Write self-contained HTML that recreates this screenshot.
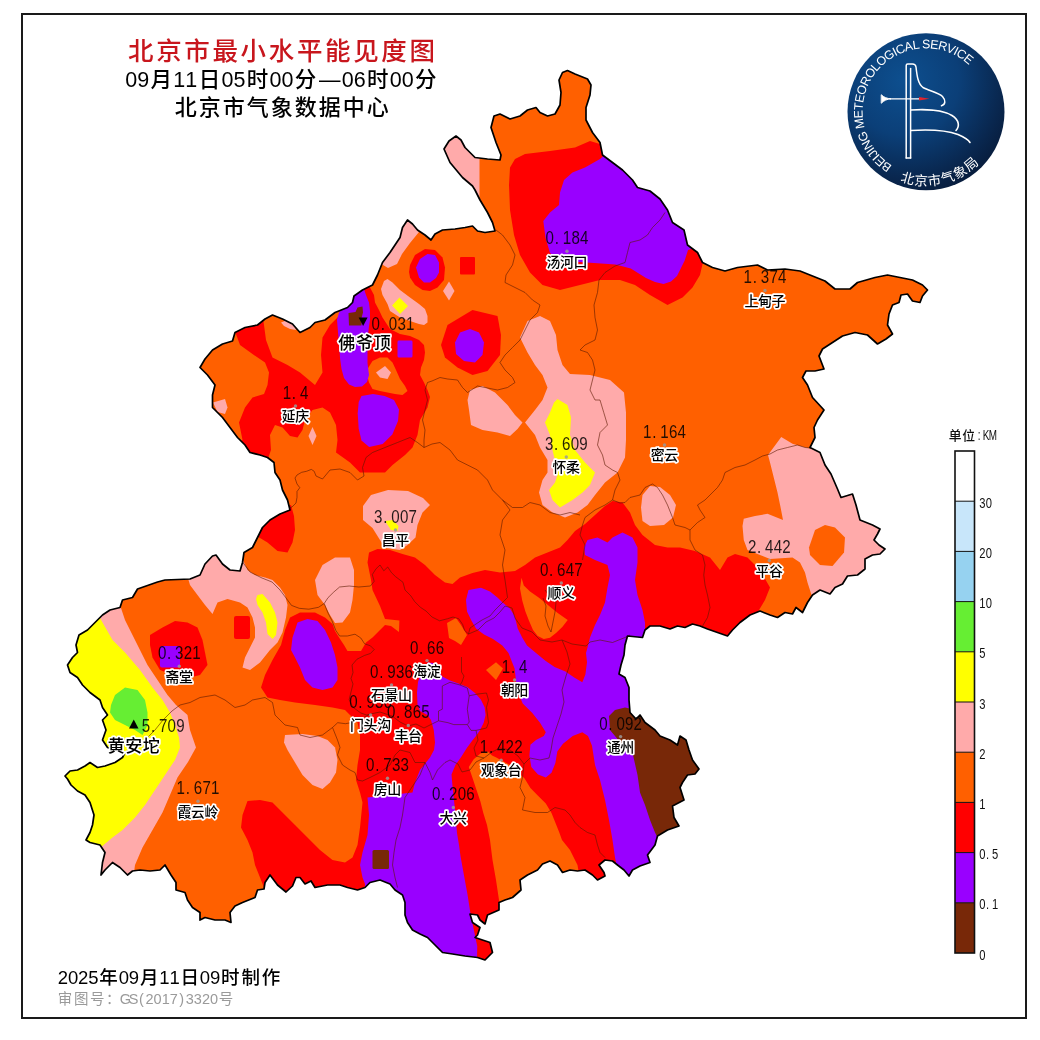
<!DOCTYPE html>
<html lang="zh-CN"><head><meta charset="utf-8"><title>北京市最小水平能见度图</title>
<style>
html,body{margin:0;padding:0;background:#fff;}
body{width:1040px;height:1040px;overflow:hidden;position:relative;font-family:"Liberation Sans","Noto Sans CJK SC",sans-serif;}
svg{position:absolute;left:0;top:0;display:block;}
text{font-family:"Liberation Sans","Noto Sans CJK SC",sans-serif;}
</style></head><body>
<svg width="1040" height="1040" viewBox="0 0 1040 1040">
<rect x="0" y="0" width="1040" height="1040" fill="#fff"/>

<defs><clipPath id="bj"><polygon points="444,149 449,141 456,136 461,140 465,147.5 475,157.5 487.5,159 500,160 501,155 496,142.5 491,127.5 494,116 500,114 510,119 520,116 527.5,110 536,107.5 540,112.5 547.5,116 555,114 560,105 561,92.5 559,80 562.5,72.5 567.5,70.5 575,74 587.5,79 591,85 590,95 586,107.5 586,120 592.5,132.5 600,142.5 602.5,155 612.5,162.5 622.5,170 632.5,180 637.5,187.5 650,191 660,199 667.5,210 672.5,222.5 684,230 687.5,245 697.5,252.5 702.5,262.5 712.5,267.5 725,271 737.5,267.5 757.5,265 767.5,270 785,269 800,271 812.5,276 825,281 835,289 850,289 857.5,282.5 875,277.5 887.5,275 900,277.5 912.5,280 922.5,285 927.5,290 922.5,296 920,302.5 912.5,301 907.5,294 901,295 899,302.5 892.5,305 889,314 887.5,325 892.5,334 886,339 877.5,344 867.5,335 855,332.5 842.5,336 832.5,342.5 822.5,349 819,356 824,369 815,371 806,371 802.5,377.5 807.5,385 812.5,397.5 824,410 817.5,420 814,427.5 815,437.5 810,447.5 820,452.5 825,465 831,474 837.5,489 841,497.5 852.5,494 856,505 860,520 872.5,525 880,529 877.5,534 874,540 879,545 885,549 880,554 872.5,555 865,559 865,569 857.5,575 847.5,576 842.5,584 835,587.5 830,594 820,590 812.5,595 807.5,602.5 802.5,612.5 796,607.5 792.5,614 785,612.5 777.5,617.5 770,615 760,611 750,615 740,622.5 732.5,630 727.5,636 717.5,632.5 707.5,629 700,626 692.5,624 685,627.5 677.5,626 670,629 660,626 650,626 645,630 642.5,637.5 627.5,636 625,645 624,655 621,665 619,674 625,677.5 629,687.5 629,700 630,712.5 636,719 640,715 645,722.5 655,730 660,736 670,740 677.5,745 680,736 686,740 689,750 692.5,760 699,769 695,774 687.5,775 682.5,782.5 680,787.5 684,800 672.5,806 674,817.5 679,826 667.5,830 657.5,836 655,845 647.5,855 650,862.5 640,866 632.5,870 629,876 624,870 617.5,865 612.5,861 605,860 599,865 604,872.5 605,876 597.5,880 592.5,875 585,870 577.5,871 570,870 562.5,872.5 557.5,865 550,861 542.5,864 537.5,870 527.5,875 520,880 521,890 512.5,897.5 505,900 499,902.5 499,910 487.5,915 485,924 480,920 477.5,915 470,914 472.5,922.5 480,927.5 477.5,935 475,937.5 482.5,940 490,942.5 492.5,952.5 485,960 477.5,957.5 465,956 452.5,954 442.5,952.5 435,945 427.5,937.5 420,934 412.5,930 407.5,922.5 405,915 405,902.5 402.5,895 395,890 390,884 380,880 370,882.5 365,887.5 357.5,890 347.5,887.5 340,885 327.5,885 315,887.5 311,881 305,884 300,877.5 296,877.5 292.5,886 286,892 277.5,885 270,875 265,882.5 264,889 257.5,890 255,897.5 242.5,902.5 235,906 230,912.5 231,922.5 225,920 215,920 205,917.5 200,920 200,912.5 192.5,907.5 187.5,900 185,892.5 176,890 176,882.5 171,875 165,865 160,870 150,871 140,870 132.5,871 127.5,875 120,867.5 112.5,862.5 105,870 101,875 102.5,862.5 105,852.5 100,845 90,842.5 86,840 90,832.5 92.5,825 94,815 90,802.5 85,795 77.5,791 71,785 67.5,779 65,776 70,771 77.5,770 85,766 90,762.5 97.5,767.5 105,766 115,762.5 122.5,757.5 125,752.5 115,750 107.5,747.5 102.5,740 106,730 102.5,720 107.5,715 102.5,707.5 100,700 90,692.5 82.5,685 77.5,677.5 70,672.5 67.5,665 72.5,657.5 77.5,652.5 76,645 79,635 87.5,630 95,622.5 102.5,615 110,610 120,607.5 122.5,600 132.5,597.5 137.5,589 147.5,585.5 157.5,582 165,580 177.5,579.5 190,579 200,575 205,564 212.5,556 216,555 222.5,564 230,570 240,571 242.5,562.5 244,552.5 252.5,547.5 257.5,537.5 262.5,527.5 270,520 280,514 290,510 287.5,500 282.5,490 280,480 275,472.5 274,462.5 267.5,457.5 260,455 250,452.5 245,445 237.5,437.5 230,427.5 222.5,417.5 212.5,407.5 212.5,395 215,385 207.5,375 200,367.5 205,359 212.5,350 222.5,344 232.5,341 235,332.5 245,327.5 257.5,325 265,319 272.5,315 282.5,319 292.5,324 300,332.5 310,327.5 315,322.5 325,320 335,312.5 347.5,307.5 352.5,302.5 354,296 362.5,290 372.5,285 377.5,275 382.5,262.5 390,252.5 395,245 400,237.5 402.5,227.5 407.5,220 412.5,224 417.5,230 425,235 431,240 435,234 442.5,230 455,229 465,227.5 472.5,226 477.5,231 485,232.5 495,231 492.5,222.5 487.5,212.5 480,200 475,190 472.5,186 462.5,177.5 450,162.5"/></clipPath>

<radialGradient id="lg" cx="0.36" cy="0.30" r="0.78">
<stop offset="0" stop-color="#0d4f8f"/><stop offset="0.45" stop-color="#0b3f78"/><stop offset="0.8" stop-color="#09274f"/><stop offset="1" stop-color="#071a38"/>
</radialGradient>
<path id="arcTop" d="M 892.35,165.55 A 63.5,63.5 0 1 1 969.71,65.64"/>
<path id="arcBot" d="M 900.08,181.01 A 74,74 0 0 0 979.68,162.64"/>

</defs>
<rect x="22" y="14" width="1004" height="1004" fill="none" stroke="#1a1a1a" stroke-width="2"/>
<g clip-path="url(#bj)">
<polygon points="444,149 449,141 456,136 461,140 465,147.5 475,157.5 487.5,159 500,160 501,155 496,142.5 491,127.5 494,116 500,114 510,119 520,116 527.5,110 536,107.5 540,112.5 547.5,116 555,114 560,105 561,92.5 559,80 562.5,72.5 567.5,70.5 575,74 587.5,79 591,85 590,95 586,107.5 586,120 592.5,132.5 600,142.5 602.5,155 612.5,162.5 622.5,170 632.5,180 637.5,187.5 650,191 660,199 667.5,210 672.5,222.5 684,230 687.5,245 697.5,252.5 702.5,262.5 712.5,267.5 725,271 737.5,267.5 757.5,265 767.5,270 785,269 800,271 812.5,276 825,281 835,289 850,289 857.5,282.5 875,277.5 887.5,275 900,277.5 912.5,280 922.5,285 927.5,290 922.5,296 920,302.5 912.5,301 907.5,294 901,295 899,302.5 892.5,305 889,314 887.5,325 892.5,334 886,339 877.5,344 867.5,335 855,332.5 842.5,336 832.5,342.5 822.5,349 819,356 824,369 815,371 806,371 802.5,377.5 807.5,385 812.5,397.5 824,410 817.5,420 814,427.5 815,437.5 810,447.5 820,452.5 825,465 831,474 837.5,489 841,497.5 852.5,494 856,505 860,520 872.5,525 880,529 877.5,534 874,540 879,545 885,549 880,554 872.5,555 865,559 865,569 857.5,575 847.5,576 842.5,584 835,587.5 830,594 820,590 812.5,595 807.5,602.5 802.5,612.5 796,607.5 792.5,614 785,612.5 777.5,617.5 770,615 760,611 750,615 740,622.5 732.5,630 727.5,636 717.5,632.5 707.5,629 700,626 692.5,624 685,627.5 677.5,626 670,629 660,626 650,626 645,630 642.5,637.5 627.5,636 625,645 624,655 621,665 619,674 625,677.5 629,687.5 629,700 630,712.5 636,719 640,715 645,722.5 655,730 660,736 670,740 677.5,745 680,736 686,740 689,750 692.5,760 699,769 695,774 687.5,775 682.5,782.5 680,787.5 684,800 672.5,806 674,817.5 679,826 667.5,830 657.5,836 655,845 647.5,855 650,862.5 640,866 632.5,870 629,876 624,870 617.5,865 612.5,861 605,860 599,865 604,872.5 605,876 597.5,880 592.5,875 585,870 577.5,871 570,870 562.5,872.5 557.5,865 550,861 542.5,864 537.5,870 527.5,875 520,880 521,890 512.5,897.5 505,900 499,902.5 499,910 487.5,915 485,924 480,920 477.5,915 470,914 472.5,922.5 480,927.5 477.5,935 475,937.5 482.5,940 490,942.5 492.5,952.5 485,960 477.5,957.5 465,956 452.5,954 442.5,952.5 435,945 427.5,937.5 420,934 412.5,930 407.5,922.5 405,915 405,902.5 402.5,895 395,890 390,884 380,880 370,882.5 365,887.5 357.5,890 347.5,887.5 340,885 327.5,885 315,887.5 311,881 305,884 300,877.5 296,877.5 292.5,886 286,892 277.5,885 270,875 265,882.5 264,889 257.5,890 255,897.5 242.5,902.5 235,906 230,912.5 231,922.5 225,920 215,920 205,917.5 200,920 200,912.5 192.5,907.5 187.5,900 185,892.5 176,890 176,882.5 171,875 165,865 160,870 150,871 140,870 132.5,871 127.5,875 120,867.5 112.5,862.5 105,870 101,875 102.5,862.5 105,852.5 100,845 90,842.5 86,840 90,832.5 92.5,825 94,815 90,802.5 85,795 77.5,791 71,785 67.5,779 65,776 70,771 77.5,770 85,766 90,762.5 97.5,767.5 105,766 115,762.5 122.5,757.5 125,752.5 115,750 107.5,747.5 102.5,740 106,730 102.5,720 107.5,715 102.5,707.5 100,700 90,692.5 82.5,685 77.5,677.5 70,672.5 67.5,665 72.5,657.5 77.5,652.5 76,645 79,635 87.5,630 95,622.5 102.5,615 110,610 120,607.5 122.5,600 132.5,597.5 137.5,589 147.5,585.5 157.5,582 165,580 177.5,579.5 190,579 200,575 205,564 212.5,556 216,555 222.5,564 230,570 240,571 242.5,562.5 244,552.5 252.5,547.5 257.5,537.5 262.5,527.5 270,520 280,514 290,510 287.5,500 282.5,490 280,480 275,472.5 274,462.5 267.5,457.5 260,455 250,452.5 245,445 237.5,437.5 230,427.5 222.5,417.5 212.5,407.5 212.5,395 215,385 207.5,375 200,367.5 205,359 212.5,350 222.5,344 232.5,341 235,332.5 245,327.5 257.5,325 265,319 272.5,315 282.5,319 292.5,324 300,332.5 310,327.5 315,322.5 325,320 335,312.5 347.5,307.5 352.5,302.5 354,296 362.5,290 372.5,285 377.5,275 382.5,262.5 390,252.5 395,245 400,237.5 402.5,227.5 407.5,220 412.5,224 417.5,230 425,235 431,240 435,234 442.5,230 455,229 465,227.5 472.5,226 477.5,231 485,232.5 495,231 492.5,222.5 487.5,212.5 480,200 475,190 472.5,186 462.5,177.5 450,162.5" fill="#FF6000"/>
<polygon points="430,120 479.5,120 479.5,198 440,198" fill="#FFAAAA"/>
<polygon points="400,215 410,219 419,232 410,243 402,254 397,264 388,268 378,262" fill="#FFAAAA"/>
<polygon points="381,289 384,281 387.5,279 392.5,282.5 400,290 410,297.5 419,304 425,309 427.5,316 427.5,322.5 424,325 419,324 410,321 400,317.5 390,311 387.5,304 382.5,295" fill="#FFAAAA"/>
<polygon points="449,281.5 454.5,291 449,300.5 443,291" fill="#FFAAAA"/>
<polygon points="281,322.5 287.5,320 294,324 296,330 290,329 284,326" fill="#FFAAAA"/>
<polygon points="213,402.5 225,399 227.5,407.5 225,414 217.5,412" fill="#FFAAAA"/>
<polygon points="312.5,427 316.5,436 312.5,445 308.5,436" fill="#FFAAAA"/>
<polygon points="520,337.5 527.5,321 540,316 550,321 556,335 557.5,350 562.5,365 570,374 590,375 610,380 624,392.5 626,412.5 626,440 625,457.5 617.5,472.5 605,482.5 595,495 587.5,505 577.5,512.5 565,517.5 552.5,512.5 542.5,505 539,492.5 542.5,480 547.5,472.5 547.5,460 540,447.5 535,435 525,422.5 535,410 542.5,400 547.5,387.5 542.5,375 535,365 527.5,352.5" fill="#FFAAAA"/>
<polygon points="470,390 482.5,386 495,392.5 507.5,405 515,415 522.5,422.5 517.5,429 510,436 497.5,432.5 482.5,430 471,425 469,410 467.5,400" fill="#FFAAAA"/>
<polygon points="642.5,495 650,486 660,487 670,495 676,505 673,517.5 664,525 650,526 642.5,521 641,507.5" fill="#FFAAAA"/>
<polygon points="768,455 781.25,437 792.5,443.75 800,446 812,449 830,440 900,520 900,620 812.5,598 807.5,582.5 805,572.5 800,562.5 792.5,557.5 770,559 760,555 747.5,550 743.75,540 742.5,526 743.75,518.75 755,516 767.5,513.75 783,520 780.6,507.5 777.5,492.5 773.75,477.5 770,462.5" fill="#FFAAAA"/>
<polygon points="363,506 371,495 388,490 408,491 423,498 430,505 422.5,512.5 417.5,525 415.5,537.5 407.5,545 400,550 385,548 372.5,528 363,520" fill="#FFAAAA"/>
<polygon points="315,580 322.5,565 335,557.5 350,557.5 354,570 354,585 352.5,600 350,612.5 342.5,622.5 335,623 330,615 325,605 317.5,595" fill="#FFAAAA"/>
<polygon points="187,575 200,560 215,550 243,560 247.5,570 255,575 265,577.5 272.5,580 280,587.5 285,595 287.5,605 286,617.5 282.5,632.5 277.5,642.5 270,650 260,662.5 250,670 242.5,667.5 245,657.5 250,647.5 255,637.5 255,627.5 252.5,617.5 247.5,607.5 240,602.5 227.5,599 217.5,602.5 212.5,614 205,605 197.5,595 190,585" fill="#FFAAAA"/>
<polygon points="285,735 302.5,734 317.5,736 327.5,740 335,747.5 337.5,760 336,772.5 330,782.5 322.5,789 312.5,785 302.5,775 295,762.5 287.5,750 284,742.5" fill="#FFAAAA"/>
<polygon points="60,600 120,605 125,620 132.5,635 140,650 147.5,665 157.5,680 167.5,695 176,705 187.5,715 190,730 196,747.5 188,762 177.5,777.5 170,795 162.5,812.5 152.5,830 142.5,847.5 135,865 133,880 60,880" fill="#FFAAAA"/>
<polygon points="392,305.6 399.5,297.5 408,306 400,314" fill="#FFFF00"/>
<polygon points="557.5,399 567.5,405 571,417.5 570,435 575,450 585,462.5 595,472.5 590,485 582.5,492.5 572.5,500 560,507.5 552.5,500 549,490 555,482.5 557.5,475 556,465 552.5,450 550,435 545,422.5 550,412.5 554,402.5" fill="#FFFF00"/>
<polygon points="385,521 392.5,520 398.5,526 397.5,531 391,530" fill="#FFFF00"/>
<polygon points="257.5,595 262.5,594 270,602.5 275,612.5 277.5,622.5 276,635 272.5,639 267.5,634 266,622.5 262.5,612.5 257.5,605 256,599" fill="#FFFF00"/>
<polygon points="60,610 100,618 102.5,622.5 112.5,640 125,652.5 140,670 152.5,687.5 162.5,700 170,712.5 175,725 179,737.5 180,747.5 175,760 165,775 155,790 145,805 135,817.5 122.5,830 112.5,837.5 100,848 60,850" fill="#FFFF00"/>
<polygon points="111,705 115,695 125,687.5 137.5,690 145,700 147.5,712.5 147.5,725 142.5,735 135,730 125,725 115,720 110,712.5" fill="#66EE33"/>
<polygon points="600,144 590,141 575,147.5 550,151 525,154 515,159 510,167.5 509,185 510,210 514,235 520,255 530,272.5 542.5,285 560,290 580,285 600,280 620,280 635,285 650,295 667.5,305 682.5,297.5 692.5,287.5 700,275 703,262 720,250 700,200 650,170 610,140" fill="#FF0000"/>
<polygon points="410,265 415,255 425,249 435,250 442.5,257.5 445,267.5 444,280 437.5,287.5 430,291 422.5,290 415,285 410,277.5 409,272" fill="#FF0000"/>
<polygon points="441,345 447.5,325 472.5,310 497.5,316 501,335 500,355 487.5,371 472.5,375 457.5,367.5 445,357.5" fill="#FF0000"/>
<path d="M461,257 H474 Q475,257 475,258 V273.5 Q475,274.5 474,274.5 H461 Q460,274.5 460,273.5 V258 Q460,257 461,257 Z" fill="#FF0000"/>
<path d="M236,616 H248 Q250,616 250,618 V637 Q250,639 248,639 H236 Q234,639 234,637 V618 Q234,616 236,616 Z" fill="#FF0000"/>
<polygon points="236,334 228,325 262,312 264,325 266,340 272.5,357.5 287.5,365 300,372.5 315,385 322.5,372.5 321,355 322.5,337.5 330,325 340,315 345,295 365,280 370,287.5 374,295 375,302.5 379,310 382.5,317.5 390,329 400,334 410,336 419,340 424,345 425,352.5 424,360 421,367.5 420,375 424,382.5 427.5,390 430,397 427.5,407.5 420,420 417.5,435 412.5,447.5 405,455 392.5,465 385,472.5 370,472.5 360,472.5 350,462.5 336,452.5 337.5,440 336,425 330,412.5 322.5,407.5 312.5,410 305,420 302.5,430 297.5,437.5 290,436 282.5,427.5 275,425 270,435 271,450 267.5,460 250,462 238,445 242.5,440 239,422.5 245,407.5 252.5,397.5 264,394 267.5,385 269,372.5 265,362.5 252.5,354 240,345" fill="#FF0000"/>
<polygon points="150,635 162.5,627.5 175,621 187.5,622.5 197.5,627.5 202.5,640 205,652.5 207.5,665 200,675 190,677.5 175,676 160,670 152.5,657.5 150,645" fill="#FF0000"/>
<polygon points="255,535 260,520 272,510 291,505 294,516 295,530 292.5,542.5 287.5,552.5 277.5,551 267.5,542.5" fill="#FF0000"/>
<polygon points="369,552.5 377.5,549 390,550 402.5,554 415,557.5 425,565 435,575 445,582.5 452.5,584 460,577.5 472.5,573 485,570 500,572.5 515,571 525,565 535,557.5 547.5,552.5 560,547.5 567.5,540 575,531 585,524 595,515 605,506 612.5,501 622.5,502.5 630,512.5 635,525 642.5,535 655,545 667.5,547.5 680,547.5 695,551 710,557.5 720,570 727.5,557.5 735,554 747.5,557.5 760,570 770,587.5 765,600 757.5,612.5 752.5,620 752.5,1000 265,1000 265,890 260,877.5 255,865 252.5,852.5 247.5,840 241,827.5 242.5,815 247.5,801 260,800 272.5,802.5 282.5,812.5 295,825 307.5,837.5 320,850 332.5,860 345,862.5 352.5,857.5 357.5,845 360,827.5 362.5,802.5 360,792.5 356,780 357.5,765 360,750 360,735 357.5,722.5 350,715 345,710 332.5,707.5 315,705 295,702.5 280,700 267.5,697.5 261,687.5 265,675 272.5,660 281,645 285,630 290,617.5 300,612.5 315,612.5 325,617.5 332.5,624 335,631 340,639 344,645 347.5,651 361,651 366,642.5 372.5,637.5 380,630 385,625 391,626 399,632 399.4,620.6 385,619 380,606 376,597.5 372.5,590 371,580 367.5,562.5" fill="#FF0000"/>
<polygon points="367.5,369 372.5,361 380,357.5 387.5,357.5 392.5,362.5 396,370 400,379 405,386 407.5,391 402.5,395 395,394 387.5,392.5 380,391 372.5,389 369,382.5 367,375" fill="#FF6000"/>
<polygon points="376,372.5 385,366 391,372.5 387.5,379 380,377.5" fill="#FFAAAA"/>
<polygon points="809,547.5 815,530 825,525 835,527.5 845,537.5 844,552.5 832.5,566 820,565 810,555" fill="#FF6000"/>
<polygon points="447,623 456,618 461,625 467,635 461,645 455,641 449,638" fill="#FF6000"/>
<polygon points="486,670 496,662.3 503,668.5 496,680" fill="#FF6000"/>
<polygon points="521.5,577.7 523.8,585.4 530,591.5 539,597.7 548.5,605.4 557.7,613 567.7,620 562.3,627 556,633 550,637.7 543.8,639 537.7,636 533,630 529,620.8 525.4,611.5 522.3,600.8 520,588.5" fill="#FF6000"/>
<polygon points="468.8,767 473.7,759.2 480.4,753.5 488,751.5 492,755.4 495.8,757.3 510,765 524.6,778.5 530.4,788 538,795.8 545.8,803.5 551.5,813 555.4,822.7 559.2,832.3 562,840 570,850 577.5,865 580,880 560,900 500,910 499,900 496,880 492.5,860 490,840 487,825 483.3,813 480.4,801.5 476.5,790 472.7,778.5" fill="#FF6000"/>
<polygon points="600,159 585,167.5 572.5,172.5 564,180 560,192.5 559,205 550,212.5 543.3,221 545.5,237.7 550,253 557.7,259 563.5,261 590.4,262.7 615.4,264.6 630.8,268.5 646,278 655,282 663.5,284 671,281.5 677,276 681,268 684.6,260.8 688,250 720,240 660,170 610,150" fill="#9900FF"/>
<polygon points="416,267.5 420,259 427.5,254 435,255 439,262.5 439,272.5 436,278 430,282.5 424,282.5 419,277.5" fill="#9900FF"/>
<polygon points="455,342.5 460,332.5 470,329 479,332.5 484,342.5 482.5,355 475,362.5 464,361 456,354" fill="#9900FF"/>
<polygon points="342.5,309 350,300 364,289 366,295 369,302.5 370,311 370,320 369,326 367.5,340 367.5,352 367.5,363 369,375 367,382 362,386.5 355,387 349,384.5 344,378 341.5,369 340,358 339.5,350 338.5,338 337.5,326 337,320 339,312.5" fill="#9900FF"/>
<path d="M399,340.6 H411 Q412.5,340.6 412.5,342 V356 Q412.5,357.5 411,357.5 H399 Q397.5,357.5 397.5,356 V342 Q397.5,340.6 399,340.6 Z" fill="#9900FF"/>
<polygon points="361.5,396 373,394 384.6,396 394,400 399,409.6 398,421 392.3,434.6 382.7,444 369.2,447 361.5,440.4 358.7,428.8 357.7,413.5 358.7,402" fill="#9900FF"/>
<path d="M162,646 H178 Q180,646 180,648 V665.5 Q180,667.5 178,667.5 H162 Q160,667.5 160,665.5 V648 Q160,646 162,646 Z" fill="#9900FF"/>
<polygon points="297.5,622.5 307.5,619 317.5,621 325,630 331,642.5 335,655 337.5,667.5 337.5,680 332.5,687.5 322.5,690 312.5,687.5 305,680 300,667.5 295,657.5 291,650 292.5,637.5" fill="#9900FF"/>
<polygon points="418,682 420,676 424,668 428,662.5 433,663 438,670 442.3,676.5 450,680.4 457.7,683.3 467.3,687 475,693 480.8,699.6 484.6,707.3 485.6,715 483.7,722.7 479.8,730.4 476,736 472.7,740 467,747.7 461,757.3 455.4,765 451.5,774.6 452.5,786 454,800 455.5,815 457,833 459,845 460.5,856 464,875.4 467.5,894.6 470.5,913.8 477.5,947.5 477,970 360,970 365,884 362.5,877.5 360,865 362.5,852.5 367.5,835 369,815 367.5,797.5 390,795 412.5,792.5 415,782.5 420,770 430,757.5 434,750 435,742.5 433.75,730 431,720 427.5,715 420,711 417.5,705 417,692.5" fill="#9900FF"/>
<polygon points="466,600 468.5,590 481,587.7 490,591.5 497.7,597.7 502.3,602.3 510,608.5 514.6,616 517.7,628.5 522.3,637.7 527,645.4 536,653 545.4,660.8 554.6,667 565.4,671.5 574.6,677.7 582.3,682.3 585.4,674.6 587,662.3 586,653 587.5,647.5 590,637.5 595,625 600,615 605,602.5 607.5,587.5 610,575 607.5,565 595,560 585,555 584,547.5 587.5,540 597.5,537.5 607.5,542.5 612.5,537.5 622.5,532.5 632.5,537.5 637.5,547.5 637.5,562.5 635,580 637.5,595 642.5,610 645,622.5 645,632 655,640 655,700 700,740 700,850 640,880 616,870 616,862.5 615,857.5 612.5,840 609,820 605,800 600,780 595,765 592,745.8 588,736 582.3,732.3 572.7,736 563,743.8 557.3,751.5 555.4,763 551.5,772.7 545.8,777.5 538,774.6 531.3,767 529.4,755.4 530.4,744.8 536,740 543.8,736 545.8,732.3 540,722.7 532.3,713 522.7,703.5 517,690 514.6,668.5 511.5,660.8 508.5,653 502.3,645.4 493,639 484,634.6 476,628.5 471.5,620.8 467,611.5" fill="#9900FF"/>
<polygon points="609,716 615,710 625,707.5 632,709 700,700 720,780 660,850 657.5,837.5 655,832.5 650,820 645,805 640,792.5 637.5,775 633,755 620,742 610,730" fill="#782808"/>
<polygon points="348.5,313 355.5,312 357.5,307.5 362.5,306.5 363,312.5 361.5,318 361.5,325.5 349,325.5" fill="#782808"/>
<path d="M374,850 H387.5 Q389,850 389,851.5 V867.5 Q389,869 387.5,869 H374 Q372.5,869 372.5,867.5 V851.5 Q372.5,850 374,850 Z" fill="#782808"/>
<polygon points="477.5,947 484,940 495,942 495,962 477,962" fill="#FF0000"/>
<polyline points="496,230 502.5,235 510,245 515,255 512.5,265 506,275 505,282.5 515,287.5 525,292.5 532.5,300 540,305 537.5,312.5 530,320 525,330 520,340 512.5,347.5 505,355 500,362.5 505,370 512.5,377.5 515,382.5 507.5,387.5 497.5,390 485,387.5 477.5,386 467.5,392.5 462.5,387.5 457.5,380 447.5,379 440,377.5 432,381 427.5,382.5 425,390 427.5,400 425,410 422.5,420 425,430 424,440 424,447.5" fill="none" stroke="#5a1a00" stroke-opacity="0.75" stroke-width="0.8" stroke-linejoin="round"/>
<polyline points="665,212.5 660,220 652.5,227.5 647.5,235 640,240 630,242.5 627.5,252.5 625,262.5 615,266 605,272.5 599,280 597.5,292.5 594,305 595,317.5 597.5,330 595,340 585,345 580,350 587.5,352.5 592.5,360 595,370 592.5,380 590,390 595,400 600,400 603.75,412.5 607.5,425 600,432.5 597.5,445 602.5,455 605,465 612.5,470 617.5,472.5 620,480 615,490 612.5,500 605,505 595,510 585,517.5 582.5,525 580,535 585,545 582.5,560" fill="none" stroke="#5a1a00" stroke-opacity="0.75" stroke-width="0.8" stroke-linejoin="round"/>
<polyline points="290,507.5 292,507 296,503 297,497.3 297,491.5 299.8,487.7 297,484 295,478 297,475 301.7,472.3 306.5,471.3 311.3,469.4 314.2,471.3 316,476 322.5,479 330,470 340,469 350,472.5 357.5,480 364,476 362.5,467.5 366,457.5 372.5,452.5 385,447.5 397.5,442.5 410,437.5 417.5,442.5 424,447.5" fill="none" stroke="#5a1a00" stroke-opacity="0.75" stroke-width="0.8" stroke-linejoin="round"/>
<polyline points="424,447.5 432,444 440,442.5 450,450 457.5,460 467.5,465 477.5,470 487.5,480 492.5,490 502.5,500 512.5,507.5 522.5,507.5 530,502.5 540,505 550,512.5 560,515 570,512.5 580,515" fill="none" stroke="#5a1a00" stroke-opacity="0.75" stroke-width="0.8" stroke-linejoin="round"/>
<polyline points="502.5,500 510,510 502.5,520 500,535 505,550 502.5,565 505,580 507.5,597.5 500,605 495,610 490,616 482,620 470,628 468.5,634" fill="none" stroke="#5a1a00" stroke-opacity="0.75" stroke-width="0.8" stroke-linejoin="round"/>
<polyline points="242.5,562 250,572 262,578 272,582 280,590 285.8,597.7 291.5,605.4 299.2,608.3 308.8,609.2 318.5,607.3 324.2,603.5 328,597.7 333.8,592 339.6,587 349.2,586 358.8,587 370.4,586 374.2,581.3 372.3,574.6 376,568.8 380,565 383.8,570.8 387.7,567 391.5,572.7 395.4,576.5 403,582.3 405,590 410.8,595.8 414.6,601.5 420.4,607.3 426,611 432,617 439.6,620.8 447.3,618.8 453,617 458.8,618.8 462.7,624.6 464.6,630.4 468.5,634" fill="none" stroke="#5a1a00" stroke-opacity="0.75" stroke-width="0.8" stroke-linejoin="round"/>
<polyline points="324.2,603.5 328,613 332,620.8 335.8,630.4 339.6,636 347.3,636 355,634.2 360.8,638 364.6,643.8 370.4,645.8 374.2,649.6 370.4,653.5 364.6,655.4 357,659.2 352,665 353,672.7 351,678.5 353,684 351,692 349.2,699.6 353,707.3 360.8,713 366.5,715 370.4,714" fill="none" stroke="#5a1a00" stroke-opacity="0.75" stroke-width="0.8" stroke-linejoin="round"/>
<polyline points="125,752 135,746 145,740 155,730 163,720 168,715 172,711 180,705 190,702.5 200,697.5 215,695 225,700 235,707.5 245,705 252.5,700 265,697.5 272.5,702.5 275,715 285,725 297.5,727.5 300,735 310,737.5 322.5,735 332.5,727.5 337.7,722.7 345.4,723.7 351,722.7 357,720.8 364.6,717 370.4,714 380,712 392,716 400,722 408,726" fill="none" stroke="#5a1a00" stroke-opacity="0.75" stroke-width="0.8" stroke-linejoin="round"/>
<polyline points="332.5,727.5 337.5,740 340,747.5 337.5,755 342.5,765 350,770 355,772.5 357.5,780 362.5,781 370,777.5 380,772.5 390,765 395,755 400,750 410,752.5 415,762.5 425,762.5 430,772.5 432.5,780 437.5,770 445,762.5 450,760 458,764 462,772 470,770 476,762 484,758" fill="none" stroke="#5a1a00" stroke-opacity="0.75" stroke-width="0.8" stroke-linejoin="round"/>
<polyline points="425,762.5 420,775 410,790 405,797.5 402.5,815 400,827.5 396,840 394,852.5 392.5,865 395,877.5 397.5,887.5" fill="none" stroke="#5a1a00" stroke-opacity="0.75" stroke-width="0.8" stroke-linejoin="round"/>
<polyline points="522.5,777.5 520,787.5 525,797.5 522.5,810 535,812.5 547.5,812.5 555,807.5 565,810 570,815 575,822.5 580,827.5 587.5,832.5 595,835 597.5,845 600,852.5 605,857.5" fill="none" stroke="#5a1a00" stroke-opacity="0.75" stroke-width="0.8" stroke-linejoin="round"/>
<polyline points="484,758 492,752 500,748 510,750 518,756 524,764 522.5,777.5" fill="none" stroke="#5a1a00" stroke-opacity="0.75" stroke-width="0.8" stroke-linejoin="round"/>
<polyline points="612.5,500 620,503 625,502.5 630,497.5 640,495 645,487.5 652.5,484 657.5,487.5 662.5,495 667.5,505 672.5,517.5 675,525 685,527.5 690,530 697.5,522.5 705,517.5 700,510 697.5,505 705,500 710,495 717.5,487.5 722.5,480 725,472.5 735,467.5 745,465 755,460 762.5,456 770,454 777.5,450 787.5,447.5 797.5,445 805,447.5 811,448" fill="none" stroke="#5a1a00" stroke-opacity="0.75" stroke-width="0.8" stroke-linejoin="round"/>
<polyline points="690,530 690,540 695,550 702.5,555 705,565 703.75,575 705,585 707.5,595 710,607.5 707.5,617.5 702.5,626" fill="none" stroke="#5a1a00" stroke-opacity="0.75" stroke-width="0.8" stroke-linejoin="round"/>
<polyline points="468.5,634 478,630 486,622 494,618 500,612 505,606 512,608 515,618 522,628 532,632 540,640 552,642 562,640 572,644 586,646 590,642 600,640 612.5,642.5 625,637.5 630,635" fill="none" stroke="#5a1a00" stroke-opacity="0.75" stroke-width="0.8" stroke-linejoin="round"/>
<polyline points="562,640 567,652 570,664 566,676 562,690 564,702 561,714 557,726 553,738 551,750 549,758 540,760 530,758 524,764" fill="none" stroke="#5a1a00" stroke-opacity="0.75" stroke-width="0.8" stroke-linejoin="round"/>
<polyline points="543,598 546,606 545,616 548,626 551,632 553,622 555,612 556,602 553,596 548,594 545,590" fill="none" stroke="#5a1a00" stroke-opacity="0.75" stroke-width="0.8" stroke-linejoin="round"/>
<polyline points="442.3,686 450,682.3 460,685 467.3,688 469.2,695.8 467.3,709.2 469.2,722 467.3,724.6 453.8,724.6 448,722.7 438.5,720.8 438.5,711 442.3,709.2 442.3,686" fill="none" stroke="#5a1a00" stroke-opacity="0.75" stroke-width="0.8" stroke-linejoin="round"/>
<polyline points="469.2,695.8 478,694 486.5,693 488.5,700 486.5,707.3 488.5,722.7 486.5,728 476,730.4 471,730.4 467.3,724.6" fill="none" stroke="#5a1a00" stroke-opacity="0.75" stroke-width="0.8" stroke-linejoin="round"/>
<polyline points="461.5,657 461.5,672 464,676 462,682 460,685" fill="none" stroke="#5a1a00" stroke-opacity="0.75" stroke-width="0.8" stroke-linejoin="round"/>
<polyline points="408,726 416,724 424,728 432,724 438.5,720.8" fill="none" stroke="#5a1a00" stroke-opacity="0.75" stroke-width="0.8" stroke-linejoin="round"/>
<polyline points="476,730.4 478,740 474,748 476,756 484,758" fill="none" stroke="#5a1a00" stroke-opacity="0.75" stroke-width="0.8" stroke-linejoin="round"/>
</g>
<polygon points="444,149 449,141 456,136 461,140 465,147.5 475,157.5 487.5,159 500,160 501,155 496,142.5 491,127.5 494,116 500,114 510,119 520,116 527.5,110 536,107.5 540,112.5 547.5,116 555,114 560,105 561,92.5 559,80 562.5,72.5 567.5,70.5 575,74 587.5,79 591,85 590,95 586,107.5 586,120 592.5,132.5 600,142.5 602.5,155 612.5,162.5 622.5,170 632.5,180 637.5,187.5 650,191 660,199 667.5,210 672.5,222.5 684,230 687.5,245 697.5,252.5 702.5,262.5 712.5,267.5 725,271 737.5,267.5 757.5,265 767.5,270 785,269 800,271 812.5,276 825,281 835,289 850,289 857.5,282.5 875,277.5 887.5,275 900,277.5 912.5,280 922.5,285 927.5,290 922.5,296 920,302.5 912.5,301 907.5,294 901,295 899,302.5 892.5,305 889,314 887.5,325 892.5,334 886,339 877.5,344 867.5,335 855,332.5 842.5,336 832.5,342.5 822.5,349 819,356 824,369 815,371 806,371 802.5,377.5 807.5,385 812.5,397.5 824,410 817.5,420 814,427.5 815,437.5 810,447.5 820,452.5 825,465 831,474 837.5,489 841,497.5 852.5,494 856,505 860,520 872.5,525 880,529 877.5,534 874,540 879,545 885,549 880,554 872.5,555 865,559 865,569 857.5,575 847.5,576 842.5,584 835,587.5 830,594 820,590 812.5,595 807.5,602.5 802.5,612.5 796,607.5 792.5,614 785,612.5 777.5,617.5 770,615 760,611 750,615 740,622.5 732.5,630 727.5,636 717.5,632.5 707.5,629 700,626 692.5,624 685,627.5 677.5,626 670,629 660,626 650,626 645,630 642.5,637.5 627.5,636 625,645 624,655 621,665 619,674 625,677.5 629,687.5 629,700 630,712.5 636,719 640,715 645,722.5 655,730 660,736 670,740 677.5,745 680,736 686,740 689,750 692.5,760 699,769 695,774 687.5,775 682.5,782.5 680,787.5 684,800 672.5,806 674,817.5 679,826 667.5,830 657.5,836 655,845 647.5,855 650,862.5 640,866 632.5,870 629,876 624,870 617.5,865 612.5,861 605,860 599,865 604,872.5 605,876 597.5,880 592.5,875 585,870 577.5,871 570,870 562.5,872.5 557.5,865 550,861 542.5,864 537.5,870 527.5,875 520,880 521,890 512.5,897.5 505,900 499,902.5 499,910 487.5,915 485,924 480,920 477.5,915 470,914 472.5,922.5 480,927.5 477.5,935 475,937.5 482.5,940 490,942.5 492.5,952.5 485,960 477.5,957.5 465,956 452.5,954 442.5,952.5 435,945 427.5,937.5 420,934 412.5,930 407.5,922.5 405,915 405,902.5 402.5,895 395,890 390,884 380,880 370,882.5 365,887.5 357.5,890 347.5,887.5 340,885 327.5,885 315,887.5 311,881 305,884 300,877.5 296,877.5 292.5,886 286,892 277.5,885 270,875 265,882.5 264,889 257.5,890 255,897.5 242.5,902.5 235,906 230,912.5 231,922.5 225,920 215,920 205,917.5 200,920 200,912.5 192.5,907.5 187.5,900 185,892.5 176,890 176,882.5 171,875 165,865 160,870 150,871 140,870 132.5,871 127.5,875 120,867.5 112.5,862.5 105,870 101,875 102.5,862.5 105,852.5 100,845 90,842.5 86,840 90,832.5 92.5,825 94,815 90,802.5 85,795 77.5,791 71,785 67.5,779 65,776 70,771 77.5,770 85,766 90,762.5 97.5,767.5 105,766 115,762.5 122.5,757.5 125,752.5 115,750 107.5,747.5 102.5,740 106,730 102.5,720 107.5,715 102.5,707.5 100,700 90,692.5 82.5,685 77.5,677.5 70,672.5 67.5,665 72.5,657.5 77.5,652.5 76,645 79,635 87.5,630 95,622.5 102.5,615 110,610 120,607.5 122.5,600 132.5,597.5 137.5,589 147.5,585.5 157.5,582 165,580 177.5,579.5 190,579 200,575 205,564 212.5,556 216,555 222.5,564 230,570 240,571 242.5,562.5 244,552.5 252.5,547.5 257.5,537.5 262.5,527.5 270,520 280,514 290,510 287.5,500 282.5,490 280,480 275,472.5 274,462.5 267.5,457.5 260,455 250,452.5 245,445 237.5,437.5 230,427.5 222.5,417.5 212.5,407.5 212.5,395 215,385 207.5,375 200,367.5 205,359 212.5,350 222.5,344 232.5,341 235,332.5 245,327.5 257.5,325 265,319 272.5,315 282.5,319 292.5,324 300,332.5 310,327.5 315,322.5 325,320 335,312.5 347.5,307.5 352.5,302.5 354,296 362.5,290 372.5,285 377.5,275 382.5,262.5 390,252.5 395,245 400,237.5 402.5,227.5 407.5,220 412.5,224 417.5,230 425,235 431,240 435,234 442.5,230 455,229 465,227.5 472.5,226 477.5,231 485,232.5 495,231 492.5,222.5 487.5,212.5 480,200 475,190 472.5,186 462.5,177.5 450,162.5" fill="none" stroke="#000" stroke-width="1.7" stroke-linejoin="round"/>
<text x="281.5" y="59.8" font-size="25.5" text-anchor="middle" fill="#c8161d" textLength="307" lengthAdjust="spacing" font-weight="500">北京市最小水平能见度图</text>
<text x="125.24 137.26 150.53 173.34 185.36 198.63 221.44 233.46 246.73 269.54 281.56 294.82 318.88 341.69 353.71 366.97 389.79 401.81 415.07" y="87.2" font-size="21.5" fill="#000" font-weight="500">09月11日05时00分—06时00分</text>
<text x="281.7" y="115.2" font-size="22" text-anchor="middle" fill="#000" textLength="214" lengthAdjust="spacing" font-weight="500">北京市气象数据中心</text>
<text x="57.73 67.88 78.03 88.18 99.30 118.63 128.78 139.90 159.23 169.38 180.50 199.83 209.98 221.10 241.40 261.70" y="984" font-size="18.5" fill="#000" font-weight="500">2025年09月11日09时制作</text>
<text x="57.80 73.90 90.00 106.10 119.78 128.64 139.11 145.54 153.59 161.64 169.69 179.36 185.79 193.84 201.89 209.94 218.80" y="1003.7" font-size="14.5" fill="#9a9a9a" font-weight="400">审图号：GS(2017)3320号</text>
<rect x="955" y="451.0" width="19.5" height="50.2" fill="#FFFFFF"/>
<rect x="955" y="501.2" width="19.5" height="50.2" fill="#C8E6FA"/>
<rect x="955" y="551.4" width="19.5" height="50.2" fill="#96D2F0"/>
<rect x="955" y="601.6" width="19.5" height="50.2" fill="#66EE33"/>
<rect x="955" y="651.8" width="19.5" height="50.2" fill="#FFFF00"/>
<rect x="955" y="702.0" width="19.5" height="50.2" fill="#FFAAAA"/>
<rect x="955" y="752.2" width="19.5" height="50.2" fill="#FF6000"/>
<rect x="955" y="802.4" width="19.5" height="50.2" fill="#FF0000"/>
<rect x="955" y="852.6" width="19.5" height="50.2" fill="#9900FF"/>
<rect x="955" y="902.8" width="19.5" height="50.2" fill="#782808"/>
<line x1="955" x2="974.5" y1="501.2" y2="501.2" stroke="#111" stroke-width="1"/>
<line x1="955" x2="974.5" y1="551.4" y2="551.4" stroke="#111" stroke-width="1"/>
<line x1="955" x2="974.5" y1="601.6" y2="601.6" stroke="#111" stroke-width="1"/>
<line x1="955" x2="974.5" y1="651.8" y2="651.8" stroke="#111" stroke-width="1"/>
<line x1="955" x2="974.5" y1="702.0" y2="702.0" stroke="#111" stroke-width="1"/>
<line x1="955" x2="974.5" y1="752.2" y2="752.2" stroke="#111" stroke-width="1"/>
<line x1="955" x2="974.5" y1="802.4" y2="802.4" stroke="#111" stroke-width="1"/>
<line x1="955" x2="974.5" y1="852.6" y2="852.6" stroke="#111" stroke-width="1"/>
<line x1="955" x2="974.5" y1="902.8" y2="902.8" stroke="#111" stroke-width="1"/>
<rect x="955" y="451" width="19.5" height="502.0" fill="none" stroke="#111" stroke-width="1.6"/>
<text transform="scale(0.8,1)" x="1224.11 1232.11" y="507.8" font-size="14" fill="#111" fill-opacity="1">30</text>
<text transform="scale(0.8,1)" x="1224.11 1232.11" y="558.0" font-size="14" fill="#111" fill-opacity="1">20</text>
<text transform="scale(0.8,1)" x="1224.11 1232.11" y="608.2" font-size="14" fill="#111" fill-opacity="1">10</text>
<text transform="scale(0.8,1)" x="1224.11" y="658.4" font-size="14" fill="#111" fill-opacity="1">5</text>
<text transform="scale(0.8,1)" x="1224.11" y="708.6" font-size="14" fill="#111" fill-opacity="1">3</text>
<text transform="scale(0.8,1)" x="1224.11" y="758.8" font-size="14" fill="#111" fill-opacity="1">2</text>
<text transform="scale(0.8,1)" x="1224.11" y="809.0" font-size="14" fill="#111" fill-opacity="1">1</text>
<text transform="scale(0.8,1)" x="1224.11 1232.62 1240.11" y="859.2" font-size="14" fill="#111" fill-opacity="1">0.5</text>
<text transform="scale(0.8,1)" x="1224.11 1232.62 1240.11" y="909.4" font-size="14" fill="#111" fill-opacity="1">0.1</text>
<text transform="scale(0.8,1)" x="1224.11" y="959.6" font-size="14" fill="#111" fill-opacity="1">0</text>
<text x="948.8 962.3" y="439.6" font-size="12.8" fill="#111" font-weight="500">单位</text>
<text transform="scale(0.66,1)" x="1481.32 1488.86 1498.07" y="439.8" font-size="15" fill="#111" fill-opacity="1">:KM</text>
<circle cx="926" cy="111.7" r="78.5" fill="url(#lg)"/>
<text font-size="12.4" fill="#fff" letter-spacing="0.2"><textPath href="#arcTop" textLength="211.2" lengthAdjust="spacing">BEIJING METEOROLOGICAL SERVICE</textPath></text>
<text font-size="13.5" fill="#fff"><textPath href="#arcBot" textLength="85.5" lengthAdjust="spacing">北京市气象局</textPath></text>
<g fill="none" stroke="#fff" stroke-linecap="round" stroke-linejoin="round">
<path d="M906.2,158 V65.5 Q906.2,64 907.7,64 H912.5 Q915.5,64 916,67 C917,76 918,84 923,87.5 C929,91 938,92 942.5,96.5 C946,100.5 945.5,104.5 941.5,105.8" stroke-width="1.5"/>
<path d="M910.6,158 V68.5" stroke-width="1.5"/>
<path d="M906.2,158 H910.6" stroke-width="1.5"/>
<path d="M911,110 C925,109 943,110 952,115.5 C959,120 960,126 956,130.5" stroke-width="1.6"/>
<path d="M911,130.5 C927,129.5 947,130.5 958,134.5 C965,137.5 968.5,140 970,142.5" stroke-width="1.6"/>
<path d="M890,98.8 H919" stroke-width="1.3"/>
<path d="M881.5,95 C884,97.5 887,98.5 891,98.8 C887,99.1 884,100.5 881.5,103 Z" stroke-width="1" fill="#fff"/>
</g>
<path d="M919,97 L929.5,98.8 L919,100.6 Z" fill="#e3242b"/>
<circle cx="567" cy="251.3" r="1.7" fill="#999" fill-opacity="0.85"/>
<text transform="scale(0.84,1)" x="649.52 660.36 670.00 680.23 690.47" y="244.3" font-size="18" fill="#000" fill-opacity="0.85">0.184</text>
<circle cx="765" cy="290.5" r="1.7" fill="#999" fill-opacity="0.85"/>
<text transform="scale(0.84,1)" x="885.23 896.07 905.71 915.95 926.19" y="283.5" font-size="18" fill="#000" fill-opacity="0.85">1.374</text>
<circle cx="295.5" cy="406" r="1.7" fill="#999" fill-opacity="0.85"/>
<text transform="scale(0.84,1)" x="336.54 347.38 357.02" y="399.0" font-size="18" fill="#000" fill-opacity="0.85">1.4</text>
<circle cx="566.3" cy="457" r="1.7" fill="#999" fill-opacity="0.85"/>
<text transform="scale(0.84,1)" x="648.69 659.52 669.16 679.40 689.64" y="450.0" font-size="18" fill="#000" fill-opacity="0.85">3.609</text>
<circle cx="664.5" cy="445" r="1.7" fill="#999" fill-opacity="0.85"/>
<text transform="scale(0.84,1)" x="765.59 776.43 786.07 796.31 806.54" y="438.0" font-size="18" fill="#000" fill-opacity="0.85">1.164</text>
<circle cx="395.5" cy="530" r="1.7" fill="#999" fill-opacity="0.85"/>
<text transform="scale(0.84,1)" x="445.35 456.19 465.83 476.07 486.31" y="523.0" font-size="18" fill="#000" fill-opacity="0.85">3.007</text>
<circle cx="769.3" cy="560.5" r="1.7" fill="#999" fill-opacity="0.85"/>
<text transform="scale(0.84,1)" x="890.35 901.19 910.83 921.07 931.31" y="553.5" font-size="18" fill="#000" fill-opacity="0.85">2.442</text>
<circle cx="561.3" cy="583" r="1.7" fill="#999" fill-opacity="0.85"/>
<text transform="scale(0.84,1)" x="642.73 653.57 663.21 673.45 683.69" y="576.0" font-size="18" fill="#000" fill-opacity="0.85">0.647</text>
<circle cx="427" cy="660.6" r="1.7" fill="#999" fill-opacity="0.85"/>
<text transform="scale(0.84,1)" x="487.97 498.81 508.45 518.69" y="653.6" font-size="18" fill="#000" fill-opacity="0.85">0.66</text>
<circle cx="514.6" cy="680" r="1.7" fill="#999" fill-opacity="0.85"/>
<text transform="scale(0.84,1)" x="597.38 608.21 617.85" y="673.0" font-size="18" fill="#000" fill-opacity="0.85">1.4</text>
<circle cx="391.5" cy="685" r="1.7" fill="#999" fill-opacity="0.85"/>
<text transform="scale(0.84,1)" x="440.59 451.43 461.07 471.31 481.54" y="678.0" font-size="18" fill="#000" fill-opacity="0.85">0.936</text>
<circle cx="370.6" cy="715" r="1.7" fill="#999" fill-opacity="0.85"/>
<text transform="scale(0.84,1)" x="415.71 426.55 436.19 446.42 456.66" y="708.0" font-size="18" fill="#000" fill-opacity="0.85">0.936</text>
<circle cx="408.3" cy="725.5" r="1.7" fill="#999" fill-opacity="0.85"/>
<text transform="scale(0.84,1)" x="460.59 471.43 481.07 491.31 501.54" y="718.5" font-size="18" fill="#000" fill-opacity="0.85">0.865</text>
<circle cx="387.5" cy="778.3" r="1.7" fill="#999" fill-opacity="0.85"/>
<text transform="scale(0.84,1)" x="435.83 446.67 456.31 466.54 476.78" y="771.3" font-size="18" fill="#000" fill-opacity="0.85">0.733</text>
<circle cx="453.3" cy="807.5" r="1.7" fill="#999" fill-opacity="0.85"/>
<text transform="scale(0.84,1)" x="514.16 525.00 534.64 544.88 555.12" y="800.5" font-size="18" fill="#000" fill-opacity="0.85">0.206</text>
<circle cx="501.2" cy="760.2" r="1.7" fill="#999" fill-opacity="0.85"/>
<text transform="scale(0.84,1)" x="571.19 582.02 591.66 601.90 612.14" y="753.2" font-size="18" fill="#000" fill-opacity="0.85">1.422</text>
<circle cx="620.6" cy="736.6" r="1.7" fill="#999" fill-opacity="0.85"/>
<text transform="scale(0.84,1)" x="713.33 724.17 733.81 744.04 754.28" y="729.6" font-size="18" fill="#000" fill-opacity="0.85">0.092</text>
<circle cx="179.3" cy="666.3" r="1.7" fill="#999" fill-opacity="0.85"/>
<text transform="scale(0.84,1)" x="187.97 198.81 208.45 218.69 228.92" y="659.3" font-size="18" fill="#000" fill-opacity="0.85">0.321</text>
<circle cx="198" cy="801.3" r="1.7" fill="#999" fill-opacity="0.85"/>
<text transform="scale(0.84,1)" x="210.23 221.07 230.71 240.95 251.19" y="794.3" font-size="18" fill="#000" fill-opacity="0.85">1.671</text>
<polygon points="358.6,317.5 367.6,317.5 363.1,326" fill="#000"/>
<text transform="scale(0.84,1)" x="442.38 453.21 462.85 473.09 483.33" y="330.0" font-size="18" fill="#000" fill-opacity="0.85">0.031</text>
<text x="364.4" y="349.3" font-size="17" text-anchor="middle" fill="#000" textLength="52.5" lengthAdjust="spacing" font-weight="500" stroke="#fff" stroke-width="3.4" stroke-linejoin="round" paint-order="stroke">佛爷顶</text>
<polygon points="129,728.5 138.5,728.5 133.75,719.5" fill="#000"/>
<text transform="scale(0.84,1)" x="168.81 179.64 189.28 199.52 209.76" y="732.3" font-size="18" fill="#000" fill-opacity="0.85">5.709</text>
<text x="133.8" y="751.6" font-size="17" text-anchor="middle" fill="#000" textLength="52" lengthAdjust="spacing" font-weight="500" stroke="#fff" stroke-width="3.4" stroke-linejoin="round" paint-order="stroke">黄安坨</text>
<text x="567" y="266.5" font-size="14" text-anchor="middle" fill="#000" textLength="41.1" lengthAdjust="spacing" font-weight="500" stroke="#fff" stroke-width="3.4" stroke-linejoin="round" paint-order="stroke">汤河口</text>
<text x="765" y="305.7" font-size="14" text-anchor="middle" fill="#000" textLength="41.1" lengthAdjust="spacing" font-weight="500" stroke="#fff" stroke-width="3.4" stroke-linejoin="round" paint-order="stroke">上甸子</text>
<text x="295.5" y="421.2" font-size="14" text-anchor="middle" fill="#000" textLength="27.4" lengthAdjust="spacing" font-weight="500" stroke="#fff" stroke-width="3.4" stroke-linejoin="round" paint-order="stroke">延庆</text>
<text x="566.3" y="472.2" font-size="14" text-anchor="middle" fill="#000" textLength="27.4" lengthAdjust="spacing" font-weight="500" stroke="#fff" stroke-width="3.4" stroke-linejoin="round" paint-order="stroke">怀柔</text>
<text x="664.5" y="460.2" font-size="14" text-anchor="middle" fill="#000" textLength="27.4" lengthAdjust="spacing" font-weight="500" stroke="#fff" stroke-width="3.4" stroke-linejoin="round" paint-order="stroke">密云</text>
<text x="395.5" y="545.2" font-size="14" text-anchor="middle" fill="#000" textLength="27.4" lengthAdjust="spacing" font-weight="500" stroke="#fff" stroke-width="3.4" stroke-linejoin="round" paint-order="stroke">昌平</text>
<text x="769.3" y="575.7" font-size="14" text-anchor="middle" fill="#000" textLength="27.4" lengthAdjust="spacing" font-weight="500" stroke="#fff" stroke-width="3.4" stroke-linejoin="round" paint-order="stroke">平谷</text>
<text x="561.3" y="598.2" font-size="14" text-anchor="middle" fill="#000" textLength="27.4" lengthAdjust="spacing" font-weight="500" stroke="#fff" stroke-width="3.4" stroke-linejoin="round" paint-order="stroke">顺义</text>
<text x="427" y="675.8000000000001" font-size="14" text-anchor="middle" fill="#000" textLength="27.4" lengthAdjust="spacing" font-weight="500" stroke="#fff" stroke-width="3.4" stroke-linejoin="round" paint-order="stroke">海淀</text>
<text x="514.6" y="695.2" font-size="14" text-anchor="middle" fill="#000" textLength="27.4" lengthAdjust="spacing" font-weight="500" stroke="#fff" stroke-width="3.4" stroke-linejoin="round" paint-order="stroke">朝阳</text>
<text x="391.5" y="700.2" font-size="14" text-anchor="middle" fill="#000" textLength="41.1" lengthAdjust="spacing" font-weight="500" stroke="#fff" stroke-width="3.4" stroke-linejoin="round" paint-order="stroke">石景山</text>
<text x="370.6" y="730.2" font-size="14" text-anchor="middle" fill="#000" textLength="41.1" lengthAdjust="spacing" font-weight="500" stroke="#fff" stroke-width="3.4" stroke-linejoin="round" paint-order="stroke">门头沟</text>
<text x="408.3" y="740.7" font-size="14" text-anchor="middle" fill="#000" textLength="27.4" lengthAdjust="spacing" font-weight="500" stroke="#fff" stroke-width="3.4" stroke-linejoin="round" paint-order="stroke">丰台</text>
<text x="387.5" y="793.5" font-size="14" text-anchor="middle" fill="#000" textLength="27.4" lengthAdjust="spacing" font-weight="500" stroke="#fff" stroke-width="3.4" stroke-linejoin="round" paint-order="stroke">房山</text>
<text x="453.3" y="822.7" font-size="14" text-anchor="middle" fill="#000" textLength="27.4" lengthAdjust="spacing" font-weight="500" stroke="#fff" stroke-width="3.4" stroke-linejoin="round" paint-order="stroke">大兴</text>
<text x="501.2" y="775.4000000000001" font-size="14" text-anchor="middle" fill="#000" textLength="41.1" lengthAdjust="spacing" font-weight="500" stroke="#fff" stroke-width="3.4" stroke-linejoin="round" paint-order="stroke">观象台</text>
<text x="620.6" y="751.8000000000001" font-size="14" text-anchor="middle" fill="#000" textLength="27.4" lengthAdjust="spacing" font-weight="500" stroke="#fff" stroke-width="3.4" stroke-linejoin="round" paint-order="stroke">通州</text>
<text x="179.3" y="681.5" font-size="14" text-anchor="middle" fill="#000" textLength="27.4" lengthAdjust="spacing" font-weight="500" stroke="#fff" stroke-width="3.4" stroke-linejoin="round" paint-order="stroke">斋堂</text>
<text x="198" y="816.5" font-size="14" text-anchor="middle" fill="#000" textLength="41.1" lengthAdjust="spacing" font-weight="500" stroke="#fff" stroke-width="3.4" stroke-linejoin="round" paint-order="stroke">霞云岭</text>
</svg></body></html>
